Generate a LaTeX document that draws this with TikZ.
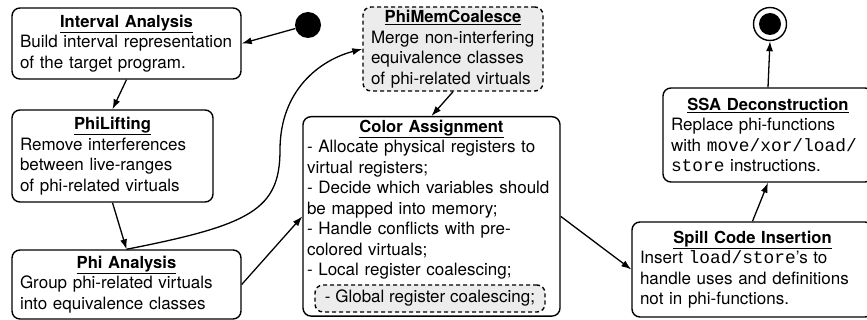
\documentclass[tikz,border=0pt]{standalone}
\usepackage{fontspec}
\setmainfont{TeX Gyre Heros}
\setmonofont[Scale=1.05]{Liberation Mono}
\usetikzlibrary{arrows.meta}
\newcommand{\stagefont}{\fontsize{17}{20.5}\selectfont}
\newcommand{\boxtitle}[1]{\makebox[\linewidth]{\fontsize{16.6}{20.5}\selectfont\underline{\textbf{#1}}}}
\tikzset{
  stagebox/.style={draw,line width=1.4pt,rounded corners=8pt,align=left,inner xsep=8pt,inner ysep=1pt,font=\stagefont},
  optbox/.style={stagebox,dash pattern=on 4pt off 3pt,fill=gray!15},
  flow/.style={-{Latex[length=10pt,width=7pt]},line width=1.3pt},
}
\begin{document}
\begin{tikzpicture}[x=1pt,y=-1pt]
\useasboundingbox (0,0) rectangle (867,320);
\clip (0,0) rectangle (867,320);
%\draw[step=50,gray,very thin] (0,0) grid (867,320);
\node[stagebox,text width=213pt,minimum height=71pt] (interval) at (126.5,43.5) {\boxtitle{Interval Analysis}\\Build interval representation\\of the target program.};
\node[stagebox,text width=185pt,minimum height=92pt] (philift) at (112.5,156) {\boxtitle{PhiLifting}\\Remove interferences\\between live-ranges\\of phi-related virtuals};
\node[stagebox,text width=213pt,minimum height=69pt] (phian) at (126.5,284.5) {\boxtitle{Phi Analysis}\\Group phi-related virtuals\\into equivalence classes};
\node[optbox,text width=164pt,minimum height=84pt] (phimem) at (453,49) {\boxtitle{PhiMemCoalesce}\\Merge non-interfering\\equivalence classes\\of phi-related virtuals};
\node[stagebox,text width=249pt,text depth=181pt,inner xsep=4pt,inner ysep=3pt,anchor=north] (color) at (431.5,116) {\boxtitle{Color Assignment}\\- Allocate physical registers to\\virtual registers;\\- Decide which variables should\\be mapped into memory;\\- Handle conflicts with pre-\\colored virtuals;\\- Local register coalescing;};
\node[optbox,minimum width=230pt,minimum height=27pt,inner ysep=0pt] (globalco) at (430,298.5) {- Global register coalescing;};
\node[stagebox,text width=194pt,minimum height=94pt] (ssa) at (768,135) {\boxtitle{SSA Deconstruction}\\Replace phi-functions\\with \texttt{move/xor/load/}\\\texttt{store} instructions.};
\node[stagebox,text width=225pt,minimum height=95pt] (spill) at (752.5,269.5) {\boxtitle{Spill Code Insertion}\\Insert \texttt{load/store}'s to\\handle uses and definitions\\not in phi-functions.};
\node[circle,fill,minimum size=26pt,inner sep=0pt] (start) at (308,25) {};
\node[circle,draw,line width=1.4pt,minimum size=33pt,inner sep=0pt] (stop) at (770,24) {};
\node[circle,fill,minimum size=22pt,inner sep=0pt] (stopdot) at (stop) {};
\draw[flow] (start) -- (interval.east);
\draw[flow] (interval.south) -- (philift.north);
\draw[flow] (philift.south) -- (phian.north);
\draw[flow] (phian.north) .. controls (250,225) and (280,210) .. (280,150) .. controls (280,90) and (320,60) .. (phimem.west);
\draw[flow] (phimem.south) -- (color.north);
\draw[flow] (phian.east) -- (color.west);
\draw[flow] (color.east) -- (spill.west);
\draw[flow] (spill.north) -- (ssa.south);
\draw[flow] (ssa.north) -- (stop.south);
\end{tikzpicture}
\end{document}
